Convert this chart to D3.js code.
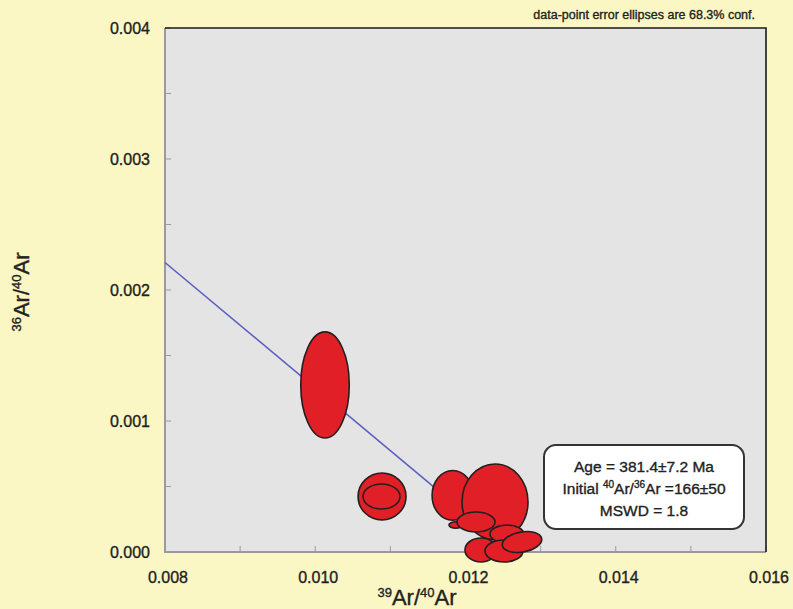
<!DOCTYPE html>
<html>
<head>
<meta charset="utf-8">
<script src="https://cdn.jsdelivr.net/npm/d3@7"></script>
<style>
  body { margin: 0; background: #fbf7c4; }
  svg { display: block; font-family: "Liberation Sans", Arial, sans-serif; }
  svg text { stroke: #222; stroke-width: 0.35px; }
</style>
</head>
<body>
<svg id="chart" width="793" height="609"></svg>
<script>
// axis ranges and ticks
const xDomain = [0.008, 0.016];
const yDomain = [0, 0.004];
const xTickLabels = [0.008, 0.010, 0.012, 0.014, 0.016];
const yTickLabels = [0.000, 0.001, 0.002, 0.003, 0.004];
const xMinorTicks = [0.009, 0.011, 0.013, 0.015];
const yMinorTicks = [0.0005, 0.0015, 0.0025, 0.0035];

// error ellipses: centre (x, y), half widths (sx, sy), tilt in degrees
const ellX  = [0.01013, 0.010889, 0.010882, 0.011830, 0.012393, 0.011870, 0.012140, 0.012552, 0.012206, 0.012513, 0.012752];
const ellY  = [0.001275, 0.000424, 0.000424, 0.000432, 0.000382, 0.000206, 0.000229, 0.000137, 0.0000153, 0.0000076, 0.0000763];
const ellSX = [0.000323, 0.000319, 0.000246, 0.000275, 0.000439, 0.00009, 0.000253, 0.000226, 0.000213, 0.000253, 0.000266];
const ellSY = [0.000405, 0.000179, 0.0000954, 0.000190, 0.00029, 0.000025, 0.0000763, 0.0000687, 0.0000916, 0.000084, 0.0000763];
const ellRot = [0, 0, 0, 0, 0, 0, 0, 0, 0, 0, -10];

// isochron line
const lineX = [0.008, 0.012615];
const lineY = [0.00221, 0.0];

const statsLines = ["Age = 381.4±7.2 Ma", "Initial ", "MSWD = 1.8"];

const svg = d3.select('#chart');
const pl = 165, pr = 766, pt = 28, pb = 552;

const x = d3.scaleLinear().domain(xDomain).range([pl, pr]);
const y = d3.scaleLinear().domain(yDomain).range([pb, pt]);

// plot panel
svg.append('rect')
  .attr('x', pl).attr('y', pt)
  .attr('width', pr - pl).attr('height', pb - pt)
  .attr('fill', '#e4e4e4');

// minor/major ticks inside the panel
const xt = xTickLabels.concat(xMinorTicks);
svg.selectAll('.xtick').data(xt).enter().append('line')
  .attr('x1', d => x(d)).attr('x2', d => x(d))
  .attr('y1', pb).attr('y2', pb - 6)
  .attr('stroke', '#9a9a9a').attr('stroke-width', 1);
const yt = yTickLabels.concat(yMinorTicks);
svg.selectAll('.ytick').data(yt).enter().append('line')
  .attr('x1', pl).attr('x2', pl + 6)
  .attr('y1', d => y(d)).attr('y2', d => y(d))
  .attr('stroke', '#9a9a9a').attr('stroke-width', 1);

// frame: grey left/bottom, dark top/right
svg.append('path')
  .attr('d', `M${pl},${pt} V${pb} H${pr}`)
  .attr('fill', 'none').attr('stroke', '#9a9a9a').attr('stroke-width', 2);
svg.append('path')
  .attr('d', `M${pl},${pt} H${pr} V${pb}`)
  .attr('fill', 'none').attr('stroke', '#1a1a1a').attr('stroke-width', 1.6);

// isochron line
svg.append('line')
  .attr('x1', x(lineX[0])).attr('y1', y(lineY[0]))
  .attr('x2', x(lineX[1])).attr('y2', y(lineY[1]))
  .attr('stroke', '#5a5fc0').attr('stroke-width', 1.6);

// ellipses
const ells = ellX.map((v, i) => ({cx: v, cy: ellY[i], sx: ellSX[i], sy: ellSY[i], r: ellRot[i]}));
svg.selectAll('.ell').data(ells).enter().append('ellipse')
  .attr('cx', d => x(d.cx)).attr('cy', d => y(d.cy))
  .attr('rx', d => x(d.cx + d.sx) - x(d.cx))
  .attr('ry', d => y(d.cy) - y(d.cy + d.sy))
  .attr('transform', d => `rotate(${d.r},${x(d.cx)},${y(d.cy)})`)
  .attr('fill', '#e01f26').attr('stroke', '#231f20').attr('stroke-width', 1.6);

// tick labels
svg.selectAll('.xl').data(xTickLabels).enter().append('text')
  .attr('x', d => x(d) + 3).attr('y', 583)
  .attr('text-anchor', 'middle')
  .attr('font-size', 16).attr('fill', '#222')
  .text(d => d3.format('.3f')(d));
svg.selectAll('.yl').data(yTickLabels).enter().append('text')
  .attr('x', 150).attr('y', d => y(d) + 6)
  .attr('text-anchor', 'end')
  .attr('font-size', 16).attr('fill', '#222')
  .text(d => d3.format('.3f')(d));

// axis titles
const xTitle = svg.append('text')
  .attr('x', 417).attr('y', 605)
  .attr('text-anchor', 'middle')
  .attr('font-size', 22).attr('fill', '#222');
xTitle.append('tspan').attr('font-size', 13).attr('dy', -8).text('39');
xTitle.append('tspan').attr('dy', 8).text('Ar/');
xTitle.append('tspan').attr('font-size', 13).attr('dy', -8).text('40');
xTitle.append('tspan').attr('dy', 8).text('Ar');

const yTitle = svg.append('text')
  .attr('transform', 'translate(29,292) rotate(-90)')
  .attr('text-anchor', 'middle')
  .attr('font-size', 22).attr('fill', '#222');
yTitle.append('tspan').attr('font-size', 13).attr('dy', -8).text('36');
yTitle.append('tspan').attr('dy', 8).text('Ar/');
yTitle.append('tspan').attr('font-size', 13).attr('dy', -8).text('40');
yTitle.append('tspan').attr('dy', 8).text('Ar');

// note
svg.append('text')
  .attr('x', 755).attr('y', 19)
  .attr('text-anchor', 'end')
  .attr('font-size', 12.5).attr('fill', '#222')
  .text('data-point error ellipses are 68.3% conf.');

// stats box
svg.append('rect')
  .attr('x', 544).attr('y', 445).attr('width', 200).attr('height', 84)
  .attr('rx', 12).attr('ry', 12)
  .attr('fill', '#fff').attr('stroke', '#333').attr('stroke-width', 2)
  .style('stroke-width', '2px');
const sx = 644;
svg.append('text').attr('x', sx).attr('y', 472).attr('text-anchor', 'middle')
  .attr('font-size', 15.5).attr('fill', '#222').text(statsLines[0]);
const s2 = svg.append('text').attr('x', sx).attr('y', 494).attr('text-anchor', 'middle')
  .attr('font-size', 15.5).attr('fill', '#222');
s2.append('tspan').text(statsLines[1]);
s2.append('tspan').attr('font-size', 10).attr('dy', -6).text('40');
s2.append('tspan').attr('dy', 6).text('Ar/');
s2.append('tspan').attr('font-size', 10).attr('dy', -6).text('36');
s2.append('tspan').attr('dy', 6).text('Ar =166±50');
svg.append('text').attr('x', sx).attr('y', 516).attr('text-anchor', 'middle')
  .attr('font-size', 15.5).attr('fill', '#222').text(statsLines[2]);
</script>
</body>
</html>
